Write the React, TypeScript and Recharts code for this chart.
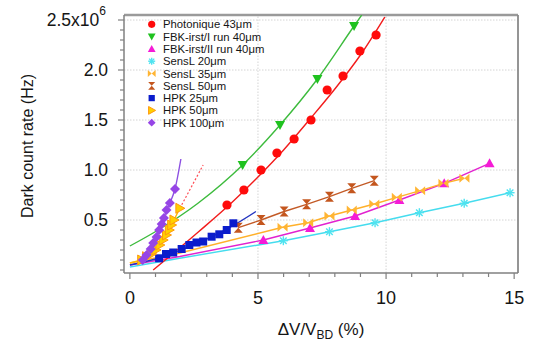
import React from 'react';
import { ComposedChart, Line, XAxis, YAxis, ReferenceLine } from 'recharts';

const FONT = "Arial, 'Liberation Sans', Helvetica, sans-serif";

// Series names (legend order)
const seriesNames = [
  'Photonique 43μm',
  'FBK-irst/I run 40μm',
  'FBK-irst/II run 40μm',
  'SensL 20μm',
  'SensL 35μm',
  'SensL 50μm',
  'HPK 25μm',
  'HPK 50μm',
  'HPK 100μm',
];

// Measured points: [ΔV/VBD (%), dark count rate (10^6 Hz)]
const photonique = [[3.79, 0.65], [4.45, 0.8], [5.12, 1.0], [5.74, 1.17], [6.41, 1.31], [7.07, 1.5], [7.7, 1.8], [8.32, 1.94], [8.98, 2.19], [9.61, 2.35]];
const fbk1 = [[4.4, 1.05], [5.86, 1.45], [7.32, 1.91], [8.75, 2.44]];
const fbk2 = [[5.21, 0.3], [7.03, 0.42], [8.79, 0.54], [10.52, 0.7], [12.27, 0.867], [14.04, 1.067]];
const sensl20 = [[5.99, 0.293], [7.79, 0.383], [9.57, 0.473], [11.3, 0.573], [13.05, 0.667], [14.84, 0.773]];
const sensl35 = [[5.96, 0.427], [6.96, 0.473], [7.79, 0.54], [8.66, 0.6], [9.54, 0.66], [10.42, 0.727], [11.33, 0.793], [12.24, 0.867], [13.06, 0.917]];
const sensl50 = [[4.23, 0.423], [5.12, 0.5], [6.02, 0.585], [6.9, 0.657], [7.79, 0.733], [8.66, 0.817], [9.54, 0.893]];
const hpk25 = [[1.14, 0.117], [1.41, 0.16], [1.69, 0.175], [2.02, 0.21], [2.32, 0.25], [2.6, 0.275], [2.86, 0.285], [3.19, 0.333], [3.49, 0.357], [3.78, 0.4], [4.04, 0.467]];
const hpk50 = [[0.46, 0.1], [0.65, 0.133], [0.85, 0.16], [1.02, 0.2], [1.17, 0.25], [1.3, 0.3], [1.43, 0.35], [1.54, 0.4], [1.63, 0.45], [1.72, 0.5], [1.95, 0.617]];
const hpk100 = [[0.5, 0.1], [0.65, 0.15], [0.81, 0.21], [0.91, 0.27], [1.04, 0.33], [1.14, 0.4], [1.24, 0.46], [1.33, 0.52], [1.43, 0.6], [1.56, 0.67], [1.76, 0.81]];

// Fit / guide curves
const photoniqueFit = [[0.91, 0.0], [2.67, 0.38], [4.0, 0.68], [5.0, 0.93], [6.0, 1.2], [7.0, 1.5], [8.0, 1.81], [9.0, 2.15], [9.95, 2.53]];
const fbk1Fit = [[0, 0.24], [1.04, 0.39], [2.67, 0.67], [4.4, 1.05], [5.86, 1.45], [7.32, 1.91], [8.75, 2.44], [9.05, 2.55]];
const fbk2Fit = [[0, 0.05], [1.95, 0.135], [5.21, 0.3], [7.03, 0.42], [8.79, 0.54], [10.52, 0.7], [12.27, 0.867], [14.04, 1.067]];
const sensl20Fit = [[0, 0.03], [2.0, 0.12], [5.99, 0.293], [7.79, 0.383], [9.57, 0.473], [11.3, 0.573], [13.05, 0.667], [14.84, 0.773]];
const sensl35Fit = [[0, 0.07], [1.95, 0.17], [5.96, 0.427], [6.96, 0.473], [7.79, 0.54], [8.66, 0.6], [9.54, 0.66], [10.42, 0.727], [11.33, 0.793], [12.24, 0.867], [13.06, 0.917]];
const sensl50Fit = [[4.23, 0.423], [5.12, 0.5], [6.02, 0.585], [6.9, 0.657], [7.79, 0.733], [8.66, 0.817], [9.54, 0.893]];
const hpk25Fit = [[0, 0.05], [1.0, 0.11], [2.0, 0.2], [3.0, 0.31], [4.0, 0.44], [4.92, 0.585]];
const hpk50Fit = [[0, 0.07], [0.46, 0.1], [0.65, 0.133], [0.85, 0.16], [1.02, 0.2], [1.17, 0.25], [1.3, 0.3], [1.43, 0.35], [1.54, 0.4], [1.63, 0.45], [1.72, 0.5], [1.95, 0.617]];
const hpk50Extension = [[1.95, 0.617], [2.86, 1.05]];
const hpk100Fit = [[0.3, 0.07], [0.5, 0.1], [0.65, 0.15], [0.81, 0.21], [0.91, 0.27], [1.04, 0.33], [1.14, 0.4], [1.24, 0.46], [1.33, 0.52], [1.43, 0.6], [1.56, 0.67], [1.76, 0.81], [1.99, 1.11]];

// Axis ticks
const xTicks = [0, 1, 2, 3, 4, 5, 6, 7, 8, 9, 10, 11, 12, 13, 14, 15];
const xMajor = [0, 5, 10, 15];
const yTicks = [0, 0.1, 0.2, 0.3, 0.4, 0.5, 0.6, 0.7, 0.8, 0.9, 1.0, 1.1, 1.2, 1.3, 1.4, 1.5, 1.6, 1.7, 1.8, 1.9, 2.0, 2.1, 2.2, 2.3, 2.4, 2.5];
const yMajor = [0.5, 1.0, 1.5, 2.0, 2.5];
const yMajorLabels = ['0.5', '1.0', '1.5', '2.0', '2.5x10'];
const xGrid = [5, 10];
const yGrid = [0.5, 1.0, 1.5, 2.0, 2.5];

const X_DOMAIN = [-0.23, 15.15];
const Y_DOMAIN = [-0.03, 2.55];

const rows = (pts: number[][]) => pts.map(([x, y]) => ({ x, y }));

type Kind = 'circle' | 'down' | 'up' | 'star' | 'bowtie' | 'hourglass' | 'square' | 'right' | 'diamond';

const styles: { kind: Kind; color: string; line: string }[] = [
  { kind: 'circle', color: '#ff0b0b', line: '#f21c1c' },
  { kind: 'down', color: '#1fc21f', line: '#3dbb3d' },
  { kind: 'up', color: '#f51bd6', line: '#e222cf' },
  { kind: 'star', color: '#4fe3f0', line: '#45dcee' },
  { kind: 'bowtie', color: '#ffb534', line: '#ffb02a' },
  { kind: 'hourglass', color: '#c4561e', line: '#c35a26' },
  { kind: 'square', color: '#0a1ccc', line: '#2334c0' },
  { kind: 'right', color: '#ffd000', line: '#ffb800' },
  { kind: 'diamond', color: '#9645e6', line: '#8c50e2' },
];

function marker(kind: Kind, color: string, cx: number, cy: number, s: number, key?: string) {
  const k = key;
  switch (kind) {
    case 'circle':
      return <circle key={k} cx={cx} cy={cy} r={4.6 * s} fill={color} />;
    case 'down':
      return <polygon key={k} points={`${cx - 5 * s},${cy - 4 * s} ${cx + 5 * s},${cy - 4 * s} ${cx},${cy + 5 * s}`} fill={color} />;
    case 'up':
      return <polygon key={k} points={`${cx - 5 * s},${cy + 4 * s} ${cx + 5 * s},${cy + 4 * s} ${cx},${cy - 5 * s}`} fill={color} />;
    case 'star':
      return (
        <g key={k} stroke={color} strokeWidth={1.4}>
          <line x1={cx - 4.5 * s} y1={cy} x2={cx + 4.5 * s} y2={cy} />
          <line x1={cx} y1={cy - 4.5 * s} x2={cx} y2={cy + 4.5 * s} />
          <line x1={cx - 3.3 * s} y1={cy - 3.3 * s} x2={cx + 3.3 * s} y2={cy + 3.3 * s} />
          <line x1={cx - 3.3 * s} y1={cy + 3.3 * s} x2={cx + 3.3 * s} y2={cy - 3.3 * s} />
        </g>
      );
    case 'bowtie':
      return (
        <g key={k} fill={color}>
          <polygon points={`${cx - 5 * s},${cy - 4.5 * s} ${cx - 5 * s},${cy + 4.5 * s} ${cx},${cy}`} />
          <polygon points={`${cx + 5 * s},${cy - 4.5 * s} ${cx + 5 * s},${cy + 4.5 * s} ${cx},${cy}`} />
        </g>
      );
    case 'hourglass':
      return (
        <g key={k} fill={color}>
          <polygon points={`${cx - 4.5 * s},${cy - 5 * s} ${cx + 4.5 * s},${cy - 5 * s} ${cx},${cy}`} />
          <polygon points={`${cx - 4.5 * s},${cy + 5 * s} ${cx + 4.5 * s},${cy + 5 * s} ${cx},${cy}`} />
        </g>
      );
    case 'square':
      return <rect key={k} x={cx - 4 * s} y={cy - 4 * s} width={8 * s} height={8 * s} fill={color} />;
    case 'right':
      return <polygon key={k} points={`${cx - 4 * s},${cy - 5 * s} ${cx - 4 * s},${cy + 5 * s} ${cx + 5 * s},${cy}`} fill={color} stroke="#ff9810" strokeWidth={1} />;
    case 'diamond':
      return <polygon key={k} points={`${cx},${cy - 5 * s} ${cx + 5 * s},${cy} ${cx},${cy + 5 * s} ${cx - 5 * s},${cy}`} fill={color} />;
  }
  return null;
}

const near = (a: number, b: number) => Math.abs(a - b) < 1e-6;

const XTick = (props: any) => {
  const { x, y, payload } = props;
  const v = payload.value as number;
  const major = xMajor.some((m) => near(m, v));
  return (
    <g>
      <line x1={x} x2={x} y1={y} y2={y + (major ? 6 : 4)} stroke="#808080" strokeWidth={1.2} />
      {major && (
        <text x={x} y={y + 30.5} textAnchor="middle" fontSize={18} fontFamily={FONT} fill="#151515">
          {v}
        </text>
      )}
    </g>
  );
};

const YTick = (props: any) => {
  const { x, y, payload } = props;
  const v = payload.value as number;
  const idx = yMajor.findIndex((m) => near(m, v));
  const major = idx >= 0;
  const label = major ? yMajorLabels[idx] : null;
  const isTop = idx === yMajor.length - 1;
  return (
    <g>
      <line x1={x} x2={x - (major ? 6 : 4)} y1={y} y2={y} stroke="#808080" strokeWidth={1.2} />
      {label && (
        <text x={isTop ? x - 18 : x - 16} y={y + 6.3} textAnchor="end" fontSize={17.5} fontFamily={FONT} fill="#151515">
          {label}
          {isTop && (
            <tspan fontSize={12} dy={-11}>
              6
            </tspan>
          )}
        </text>
      )}
    </g>
  );
};

const XTitle = (props: any) => {
  const vb = props.viewBox || { x: 124, y: 273, width: 394, height: 1 };
  const cx = vb.x + vb.width / 2;
  return (
    <text x={cx} y={vb.y + 62} textAnchor="middle" fontSize={17} fontFamily={FONT} fill="#151515">
      ΔV/V
      <tspan fontSize={12} dy={4}>BD</tspan>
      <tspan dy={-4}> (%)</tspan>
    </text>
  );
};

const YTitle = (props: any) => {
  const vb = props.viewBox || { x: 123, y: 15, width: 1, height: 258 };
  const cx = vb.x + vb.width - 97;
  const cy = vb.y + vb.height / 2 + 2;
  return (
    <text
      x={cx}
      y={cy}
      textAnchor="middle"
      dominantBaseline="central"
      fontSize={16}
      fontFamily={FONT}
      fill="#151515"
      transform={`rotate(-90, ${cx}, ${cy})`}
    >
      Dark count rate (Hz)
    </text>
  );
};

const pointSeries = [photonique, fbk1, fbk2, sensl20, sensl35, sensl50, hpk25, hpk50, hpk100];
const fitSeries = [photoniqueFit, fbk1Fit, fbk2Fit, sensl20Fit, sensl35Fit, sensl50Fit, hpk25Fit, hpk50Fit, hpk100Fit];
const fitCurveType: ('monotone' | 'linear')[] = ['monotone', 'monotone', 'linear', 'linear', 'linear', 'linear', 'monotone', 'linear', 'monotone'];
// drawing order for lines (back to front)
const lineOrder = [3, 2, 4, 5, 6, 1, 0, 7, 8];

export default function App() {
  return (
    <div style={{ position: 'absolute', left: 0, top: 0, width: 533, height: 341, background: '#ffffff' }}>
      <ComposedChart width={533} height={341} margin={{ top: 15, right: 15, bottom: 67, left: 123 }}>
        {xGrid.map((g) => (
          <ReferenceLine key={'xg' + g} x={g} stroke="#d4d4d4" strokeDasharray="1.5 1.5" strokeWidth={1} />
        ))}
        {yGrid.map((g) => (
          <ReferenceLine key={'yg' + g} y={g} stroke="#d4d4d4" strokeDasharray="1.5 1.5" strokeWidth={1} />
        ))}
        <XAxis
          type="number"
          dataKey="x"
          domain={X_DOMAIN}
          allowDataOverflow
          ticks={xTicks}
          interval={0}
          height={1}
          tickSize={0}
          tickMargin={0}
          tickLine={false}
          tick={XTick}
          axisLine={{ stroke: '#808080', strokeWidth: 1.5 }}
          label={XTitle}
        />
        <YAxis
          type="number"
          dataKey="y"
          domain={Y_DOMAIN}
          allowDataOverflow
          ticks={yTicks}
          interval={0}
          width={1}
          tickSize={0}
          tickMargin={0}
          tickLine={false}
          tick={YTick}
          axisLine={{ stroke: '#808080', strokeWidth: 1.5 }}
          label={YTitle}
        />
        <ReferenceLine y={Y_DOMAIN[1]} stroke="#9a9a9a" strokeWidth={2.5} />
        <ReferenceLine x={X_DOMAIN[1]} stroke="#8a8a8a" strokeWidth={1.8} />
        {lineOrder.map((i) => (
          <Line
            key={'fit' + i}
            data={rows(fitSeries[i])}
            dataKey="y"
            type={fitCurveType[i]}
            stroke={styles[i].line}
            strokeWidth={1.4}
            dot={false}
            activeDot={false}
            legendType="none"
            isAnimationActive={false}
          />
        ))}
        <Line
          data={rows(hpk50Extension)}
          dataKey="y"
          type="linear"
          stroke="#ff4d55"
          strokeWidth={1.2}
          strokeDasharray="2 2"
          dot={false}
          activeDot={false}
          legendType="none"
          isAnimationActive={false}
        />
        {lineOrder.map((i) => (
          <Line
            key={'pts' + i}
            data={rows(pointSeries[i])}
            dataKey="y"
            stroke="none"
            strokeWidth={0}
            activeDot={false}
            legendType="none"
            isAnimationActive={false}
            dot={(p: any) => marker(styles[i].kind, styles[i].color, p.cx, p.cy, 1, `m${i}-${p.index}`)}
          />
        ))}
      </ComposedChart>
      <svg width={533} height={341} style={{ position: 'absolute', left: 0, top: 0, pointerEvents: 'none' }}>
        {seriesNames.map((name, i) => {
          const cy = 24.3 + i * 12.3;
          return (
            <g key={name}>
              {marker(styles[i].kind, styles[i].color, 151.7, cy, 0.78)}
              <text x={163} y={cy + 4} fontSize={11.3} fontFamily={FONT} fill="#151515">
                {name}
              </text>
            </g>
          );
        })}
      </svg>
    </div>
  );
}
